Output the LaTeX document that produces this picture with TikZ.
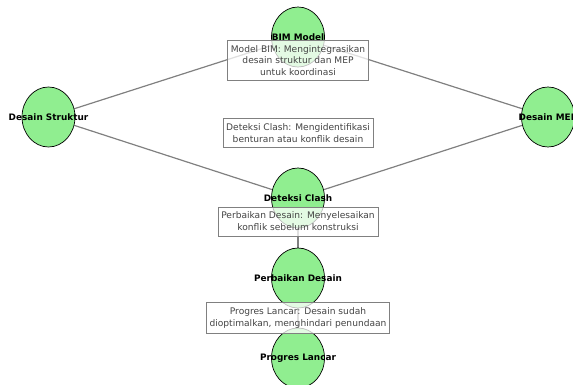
\documentclass[tikz,border=0pt]{standalone}
\usepackage{fontspec}
\setmainfont{DejaVu Sans}
\usetikzlibrary{shapes.geometric}
\pgfdeclarelayer{background}
\pgfsetlayers{background,main}
\definecolor{nodegreen}{HTML}{90EE90}
\definecolor{edgegray}{HTML}{808080}
\definecolor{labeltext}{HTML}{444444}
\begin{document}
\begin{tikzpicture}[x=1pt,y=-1pt,
  stage/.style={ellipse, draw=black, line width=0.7pt, fill=nodegreen, minimum width=53pt, minimum height=60pt, inner sep=0pt},
  stagelabel/.style={font=\fontsize{8.9}{10.5}\selectfont\bfseries, text=black, inner sep=0pt},
  link/.style={draw=edgegray, line width=1.2pt},
  note/.style={draw=gray, line width=0.7pt, fill=white, fill opacity=0.75, text opacity=1, text=labeltext, font=\fontsize{9.1}{11.8}\selectfont, align=center, inner xsep=3.2pt, inner ysep=5pt}]
\useasboundingbox (0,0) rectangle (573,385);
\node[stage] (bim) at (298,37) {};
\node[stage] (struk) at (48.5,117) {};
\node[stage] (mep) at (548,117) {};
\node[stage] (clash) at (298,198) {};
\node[stage] (fix) at (298,278) {};
\node[stage] (prog) at (298,358) {};
\begin{pgfonlayer}{background}
\draw[link] (struk) -- (bim);
\draw[link] (bim) -- (mep);
\draw[link] (struk) -- (clash);
\draw[link] (mep) -- (clash);
\draw[link] (clash) -- (fix);
\draw[link] (fix) -- (prog);
\end{pgfonlayer}
\node[stagelabel] (bimt) at (bim) {BIM Model};
\node[stagelabel] (strukt) at (struk) {Desain Struktur};
\node[stagelabel] (mept) at (mep) {Desain MEP};
\node[stagelabel] (clasht) at (clash) {Deteksi Clash};
\node[stagelabel] (fixt) at (fix) {Perbaikan Desain};
\node[stagelabel] (progt) at (prog) {Progres Lancar};
\node[note] (n1) at (298,60.5) {Model BIM: Mengintegrasikan\\desain struktur dan MEP\\untuk koordinasi};
\node[note] (n2) at (298,133) {Deteksi Clash: Mengidentifikasi\\benturan atau konflik desain};
\node[note] (n3) at (298,221.5) {Perbaikan Desain: Menyelesaikan\\konflik sebelum konstruksi};
\node[note] (n4) at (298,318) {Progres Lancar: Desain sudah\\dioptimalkan, menghindari penundaan};
\end{tikzpicture}
\end{document}
